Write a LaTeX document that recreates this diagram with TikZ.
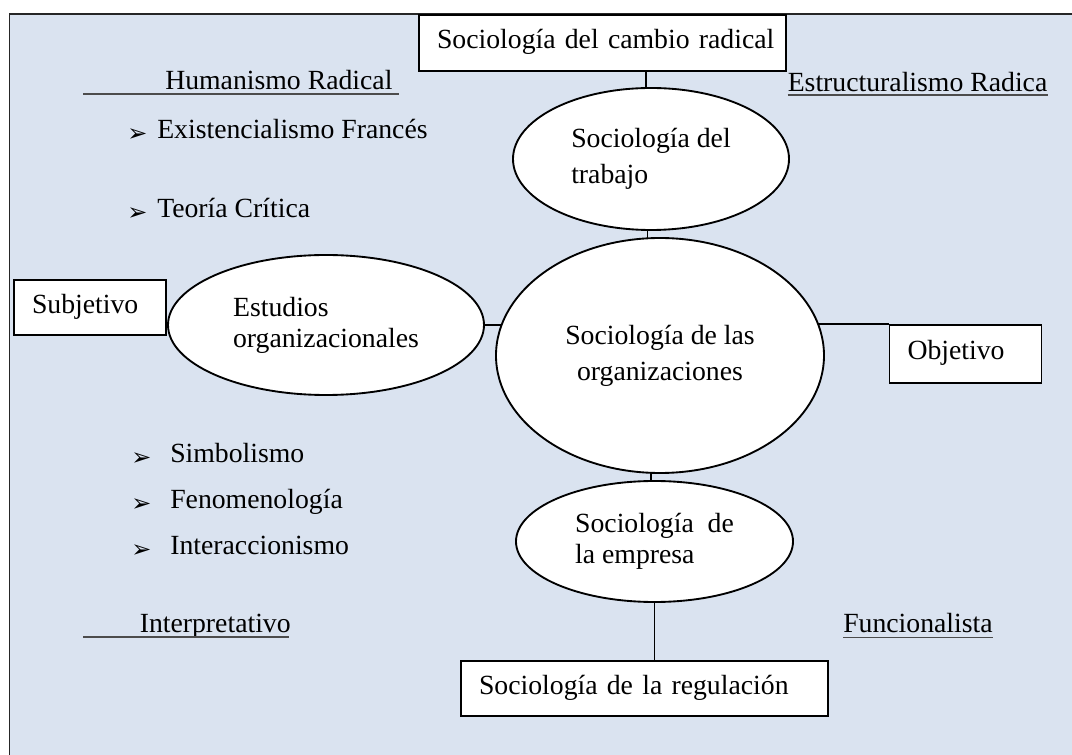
\documentclass[tikz,border=0pt]{standalone}
\usepackage{fontspec}
\setmainfont{Liberation Serif}
\newfontfamily\dingfont{DejaVu Sans}
\usetikzlibrary{shapes.geometric}
\pgfdeclarelayer{panel}
\pgfdeclarelayer{links}
\pgfsetlayers{panel,links,main}
\definecolor{panelblue}{HTML}{DAE3F0}
\newcommand{\bodyfont}{\fontsize{20.8pt}{27pt}\selectfont}
\newcommand{\tightfont}{\fontsize{20.8pt}{23.25pt}\selectfont}
\tikzset{
  txt/.style={font=\bodyfont, inner sep=0pt, anchor=base west},
  bul/.style={font=\dingfont\fontsize{18pt}{18pt}\selectfont, inner sep=0pt, anchor=base west, yshift=-2pt},
  tbox/.style={rectangle, draw, fill=white, line width=1.4pt, font=\bodyfont,
    align=left, inner xsep=13.5pt, inner ysep=0pt, text height=15pt, text depth=6pt},
  oval/.style={ellipse, draw, fill=white, line width=1.4pt, inner sep=0pt, font=\bodyfont},
  link/.style={line width=1.1pt},
  uline/.style={line width=0.9pt, black!70},
  frame/.style={line width=1.2pt, black!85}
}
\begin{document}
\begin{tikzpicture}[x=0.75pt, y=-0.75pt]
\clip (0,0) rectangle (1072,755);

% light blue panel with its left and top border
\begin{pgfonlayer}{panel}
  \fill[panelblue] (9.3,14) rectangle (1090,770);
  \draw[frame] (9.3,770) -- (9.3,14) -- (1090,14);
\end{pgfonlayer}

% boxes
\node[tbox, text width=248.25pt, minimum height=42pt] (cambio) at (602.5,43) {\mbox{Sociología del cambio radical}};
\node[tbox, text width=87pt, minimum height=41.25pt] (subj) at (90,307.5) {Subjetivo};
\node[tbox, text width=87pt, minimum height=43.5pt] (obj) at (965.5,354) {Objetivo};
\node[tbox, text width=248.25pt, minimum height=41.25pt] (reg) at (644.5,688.5) {\mbox{Sociología de la regulación}};

% ellipses
\node[oval, align=left, minimum width=207pt, minimum height=106.5pt] (trabajo) at (651,159) {Sociología del\\trabajo};
\node[oval, align=center, minimum width=246pt, minimum height=176.25pt] (big) at (660,355.5) {Sociología de las\\organizaciones};
\node[oval, align=left, font=\tightfont, minimum width=237pt, minimum height=105pt] (estud) at (326,325) {Estudios\\organizacionales};
\node[oval, align=left, font=\tightfont, minimum width=207.75pt, minimum height=90.75pt] (empresa) at (654.5,541.5) {Sociología~\ de\\la empresa};

% connectors (drawn below the shapes)
\begin{pgfonlayer}{links}
  \draw[link] ([xshift=-3.75pt]trabajo.center) -- ([xshift=-3.75pt]trabajo.center |- cambio.center);
  \draw[link] ([xshift=-2.6pt]trabajo.center) -- ([xshift=-2.6pt]trabajo.center |- big.center);
  \draw[link] ([xshift=-2.6pt]empresa.center) -- ([xshift=-2.6pt]empresa.center |- big.center);
  \draw[link] (empresa.center) -- (empresa.center |- reg.center);
  \draw[link] (estud.center) -- (estud.center -| big.center);
  \draw[link] (obj.north west) -- (obj.north west -| big.center);
\end{pgfonlayer}

% paradigm headings
\node[txt] (hum) at (165,90) {Humanismo Radical};
\node[txt] (estr) at (787.5,91.5) {Estructuralismo Radica};
\node[txt] (interp) at (139.5,632.5) {Interpretativo};
\node[txt] (func) at (843,633) {Funcionalista};
\draw[uline] (83,94) -- (399,94);
\draw[uline] ([yshift=-2.6pt]estr.base west) -- ([yshift=-2.6pt]estr.base east);
\draw[uline] (83,637) -- (288.6,637);
\draw[uline] ([yshift=-3.4pt]func.base west) -- ([yshift=-3.4pt]func.base east);

% bullet lists
\node[bul] (b1) at (127,139) {➢};
\node[txt] (exi) at (157,139) {Existencialismo Francés};
\node[bul] (b2) at (127,218) {➢};
\node[txt] (teo) at (157,218) {Teoría Crítica};
\node[bul] (b3) at (131,463) {➢};
\node[txt] (sim) at (170,463) {Simbolismo};
\node[bul] (b4) at (131,509) {➢};
\node[txt] (fen) at (170,509) {Fenomenología};
\node[bul] (b5) at (131,555) {➢};
\node[txt] (inter) at (170,555) {Interaccionismo};
\end{tikzpicture}
\end{document}
